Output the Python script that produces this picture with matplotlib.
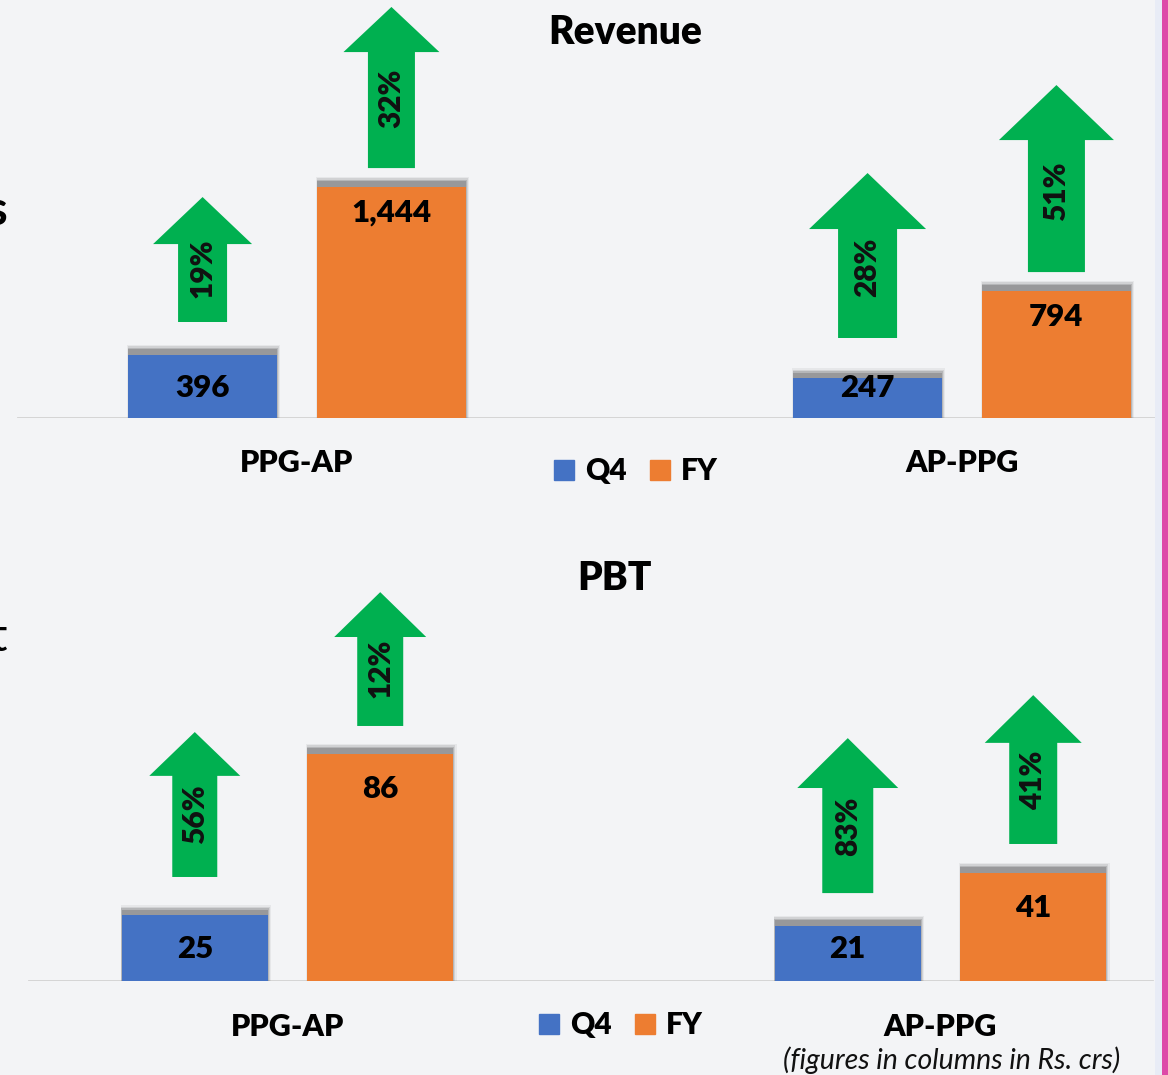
import matplotlib
matplotlib.use('Agg')
import matplotlib.pyplot as plt
from matplotlib.patches import Polygon, Rectangle
from matplotlib.lines import Line2D

plt.rcParams['font.family'] = ['Lato', 'DejaVu Sans']

# ---------------- data ----------------
categories = ['PPG-AP', 'AP-PPG']
series_names = ['Q4', 'FY']
revenue_q4 = [396, 247]
revenue_fy = [1444, 794]
revenue_growth_q4 = ['19%', '28%']
revenue_growth_fy = ['32%', '51%']
pbt_q4 = [25, 21]
pbt_fy = [86, 41]
pbt_growth_q4 = ['56%', '83%']
pbt_growth_fy = ['12%', '41%']
value_labels_rev_q4 = ['396', '247']
value_labels_rev_fy = ['1,444', '794']
value_labels_pbt_q4 = ['25', '21']
value_labels_pbt_fy = ['86', '41']

# ---------------- style / layout ----------------
BLUE = '#4472C4'
ORANGE = '#ED7D31'
GREEN = '#00B050'
BG = '#F3F4F6'
W, H = 1168, 1075
WEIGHT = 'heavy'


def pt(p):
    return p * 0.72


fig = plt.figure(figsize=(W / 100, H / 100), dpi=100, facecolor=BG)

# arrow layout: (start, head_base, tip) in data units, shaft px, head px
rev_arrows = {
    'Q4': [(600, 1087, 1381, 49, 99), (500, 1181, 1531, 59, 117)],
    'FY': [(1562, 2287, 2569, 47, 96), (912, 1737, 2081, 57, 115)],
}
pbt_arrows = {
    'Q4': [(39.4, 77.7, 94.3, 45, 91), (33.3, 73.1, 92.0, 51, 101)],
    'FY': [(96.6, 130.3, 147.3, 46, 92), (51.9, 90.2, 108.3, 48, 97)],
}

FS_VAL = 22.5
FS_ARW = 21.5
FS_CAT = 22
FS_TITLE = 28
FS_LEG = 21.5


def draw_chart(base_px, top_px, g0, g1, scale, q4, fy, lab_q4, lab_fy,
               gr_q4, gr_fy, arrows, tall_off, short_off, line_x, title,
               title_xy, cat_off, legend_xy):
    ax = fig.add_axes([0, 1 - base_px / H, 1, (base_px - top_px) / H])
    ax.set_facecolor('none')
    ax.axis('off')
    sep = g1 - g0
    ax.set_xlim((0 - g0) / sep, (W - g0) / sep)
    ax.set_ylim(0, (base_px - top_px) / scale)
    bw = 0.224
    off = 0.142
    xs = [0, 1]
    pxu = 1.0 / sep  # group units per pixel (x)
    pyu = 1.0 / scale  # data units per pixel (y)
    for vals, labs, grs, key, color, sgn in [
            (q4, lab_q4, gr_q4, 'Q4', BLUE, -1), (fy, lab_fy, gr_fy, 'FY', ORANGE, 1)]:
        pos = [x + sgn * off for x in xs]
        # soft shadow (mostly on top)
        for extra_h, extra_w, a in [(10, 4, 0.08), (8.5, 2.5, 0.14), (7, 1, 0.22),
                                    (5.5, 0, 0.30)]:
            ax.bar([p + extra_w * pxu / 3 for p in pos],
                   [v + extra_h * pyu for v in vals], width=bw + extra_w * pxu,
                   color='#555555', alpha=a, linewidth=0, zorder=1)
        ax.bar(pos, vals, width=bw, color=color, linewidth=0, zorder=2)
        for p, v, lab in zip(pos, vals, labs):
            hpx = v / pyu
            if hpx > 80:
                ax.annotate(lab, xy=(p, v), xytext=(0, -pt(tall_off)),
                            textcoords='offset points', ha='center', va='center',
                            fontsize=FS_VAL, fontweight=WEIGHT, color='black', zorder=5)
            else:
                ax.annotate(lab, xy=(p, 0), xytext=(0, pt(short_off)),
                            textcoords='offset points', ha='center', va='center',
                            fontsize=FS_VAL, fontweight=WEIGHT, color='black', zorder=5)
        for p, (s, hb, tip, sw, hw), g in zip(pos, arrows[key], grs):
            sw_u = sw * pxu / 2
            hw_u = hw * pxu / 2
            poly = Polygon([(p - sw_u, s), (p + sw_u, s), (p + sw_u, hb), (p + hw_u, hb),
                            (p, tip), (p - hw_u, hb), (p - sw_u, hb)],
                           closed=True, facecolor=GREEN, edgecolor='none', zorder=3)
            ax.add_patch(poly)
            ax.text(p, s + 0.43 * (tip - s), g, rotation=90, ha='center', va='center',
                    fontsize=FS_ARW, fontweight=WEIGHT, color='#111111', zorder=4)
    ax.axhline(0, xmin=line_x[0] / W, xmax=line_x[1] / W, color='#D2D2D2', lw=2,
               zorder=0)
    for x, c in zip(xs, categories):
        ax.annotate(c, xy=(x, 0), xytext=(0, -pt(cat_off)), textcoords='offset points',
                    ha='center', va='center', fontsize=FS_CAT, fontweight=WEIGHT,
                    annotation_clip=False)
    fig.text(title_xy[0] / W, 1 - title_xy[1] / H, title, ha='center', va='center',
             fontsize=FS_TITLE, fontweight=WEIGHT)
    handles = [Line2D([], [], marker='s', ls='', markersize=pt(20), color=BLUE),
               Line2D([], [], marker='s', ls='', markersize=pt(20), color=ORANGE)]
    fig.legend(handles, series_names, loc='center',
               bbox_to_anchor=(legend_xy[0] / W, 1 - legend_xy[1] / H), ncol=2,
               frameon=False, prop={'weight': WEIGHT, 'size': FS_LEG},
               handlelength=0.8, handletextpad=0.3, columnspacing=0.7,
               borderpad=0, borderaxespad=0)
    return ax


draw_chart(418, 0, 297, 962, 0.16, revenue_q4, revenue_fy, value_labels_rev_q4,
           value_labels_rev_fy, revenue_growth_q4, revenue_growth_fy, rev_arrows,
           26, 30, (18, 1160), 'Revenue', (625, 33), 45, (635, 471))
draw_chart(981, 540, 287.5, 940.5, 2.64, pbt_q4, pbt_fy, value_labels_pbt_q4,
           value_labels_pbt_fy, pbt_growth_q4, pbt_growth_fy, pbt_arrows,
           35, 32, (29, 1152), 'PBT', (614, 578), 46, (620, 1025))

fig.text(1120 / W, 1 - 1060 / H, '(figures in columns in Rs. crs)', ha='right',
         va='center', fontsize=20.5, style='italic', color='#111111')

# clipped letters at the left edge
fig.text(8 / W, 1 - 225 / H, 's', ha='right', va='baseline', fontsize=34,
         fontweight='bold')
fig.text(7 / W, 1 - 651 / H, 't', ha='right', va='baseline', fontsize=33)

# right-edge decoration
fig.patches.append(Rectangle((1155 / W, 0), 7 / W, 1, transform=fig.transFigure,
                             facecolor='#E8ECF6', edgecolor='none'))
fig.patches.append(Rectangle((1162 / W, 0), 6 / W, 1, transform=fig.transFigure,
                             facecolor='#DD4AA8', edgecolor='none'))

fig.savefig('out.png', dpi=100, facecolor=BG)
